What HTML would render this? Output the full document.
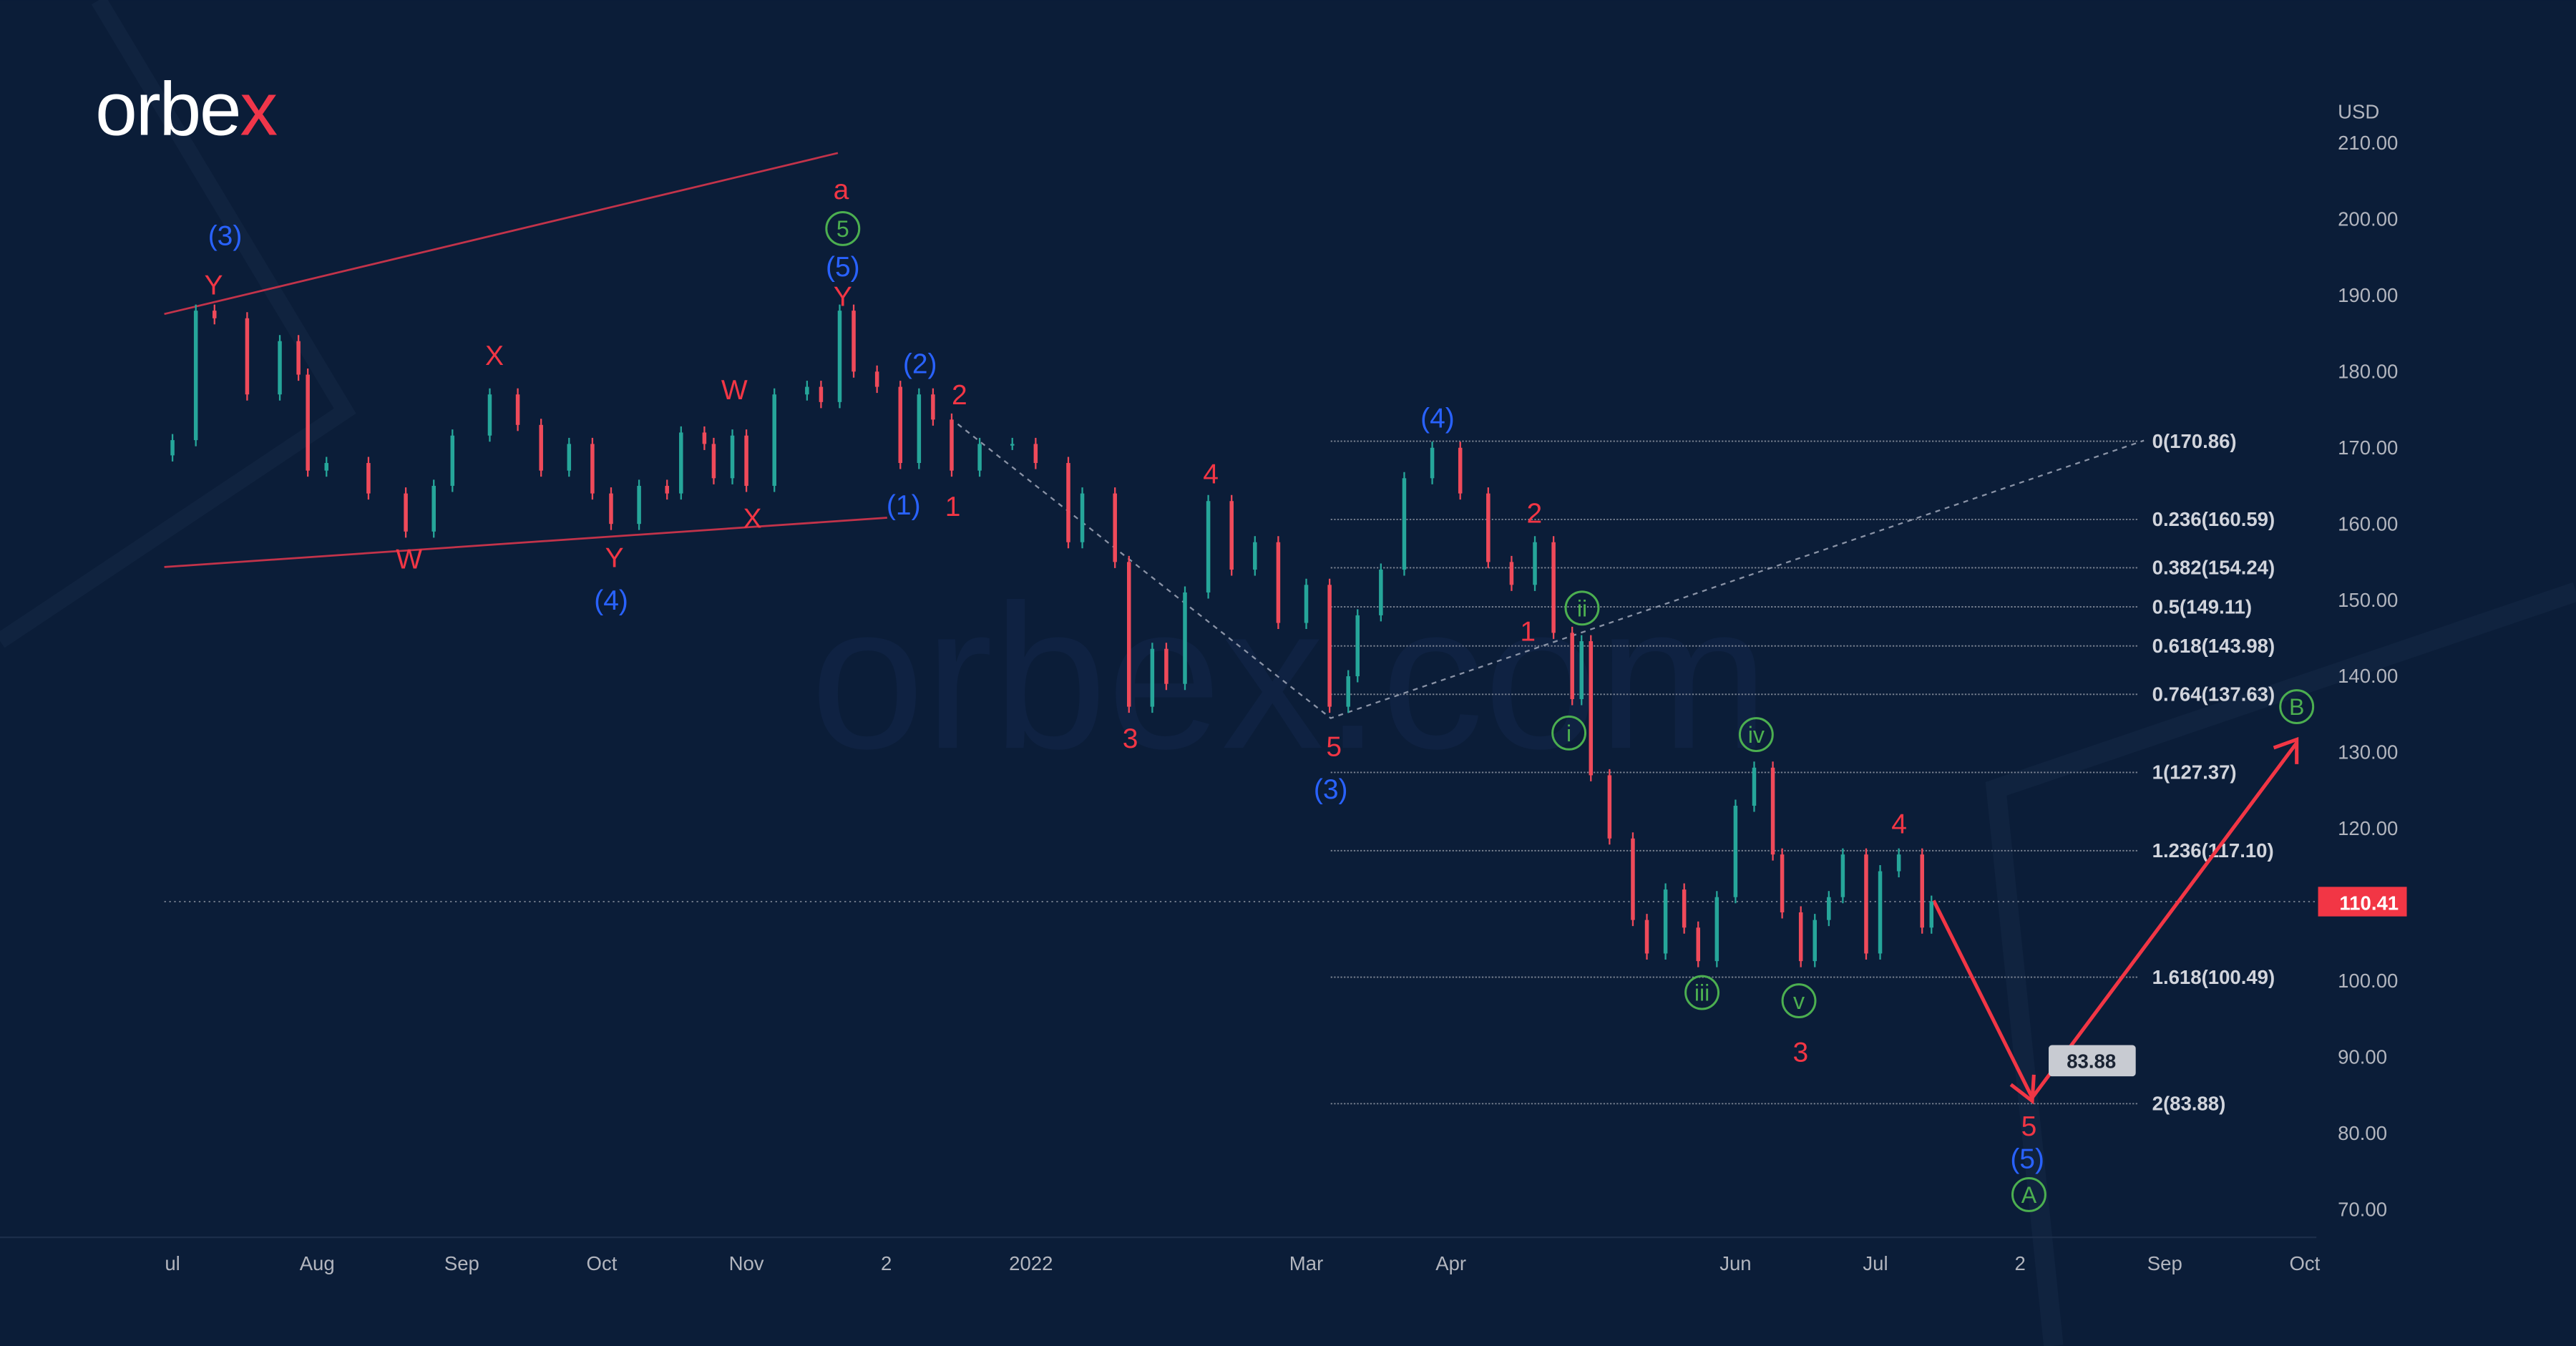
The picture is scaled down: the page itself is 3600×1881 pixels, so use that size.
<!DOCTYPE html>
<html><head><meta charset="utf-8"><style>
html,body{margin:0;padding:0;background:#0b1d38;}
svg{display:block;font-family:"Liberation Sans",sans-serif;}
</style></head><body>
<svg id="chart" width="3600" height="1881" viewBox="0 0 1568 819" xmlns="http://www.w3.org/2000/svg">
<rect x="0" y="0" width="1568" height="819" fill="#0b1d38"/>
<polyline points="60,0 210,250 0,390" fill="none" stroke="#10233f" stroke-width="10"/>
<polyline points="1568,360 1215,480 1250,819" fill="none" stroke="#10233f" stroke-width="12"/>
<text x="785" y="455" font-size="125" fill="#0f2242" text-anchor="middle">orbex.com</text>
<g><text x="58" y="82" font-size="46" fill="#ffffff" font-weight="300" letter-spacing="-1">orbe<tspan fill="#f0364a">x</tspan></text></g>
<g id="grid"></g><g id="lines"></g><g id="candles"></g><g id="labels"></g><g id="axes"></g>
</svg>
<script>
const days=[0,5,9,16,23,27,29,33,42,50,56,60,68,74,79,85,90,94,100,106,109,114,116,120,123,129,136,139,143,146,151,156,160,163,167,173,180,185,192,195,202,205,210,213,217,222,227,232,237,243,248,252,254,259,264,270,276,282,287,292,296,300,302,304,308,313,316,320,324,327,331,335,339,343,345,349,352,355,358,363,366,370,375,377];
const closes=[171,188,187,177,184,179.6,167,168,164,159,165,171.6,177,173,167,170.5,164,160,165,164,172,170.5,166,171.6,165,177,178,176,188,180,178,168,177,173.7,167,170.5,170.5,168,157.6,164,155,136,143.6,139,151,163,154,157.6,147,152,136,140,148,154,166,170,164,155,152,157.6,145.7,137,144.6,127,118.7,108,103.6,112,107,102.6,111,123,128,116.6,109,102.6,108,111,116.6,103.6,114.4,116.6,107,110.4];
const priceTicks=[210,200,190,180,170,160,150,140,130,120,100,90,80,70];
const monthLabels=["ul","Aug","Sep","Oct","Nov","2","2022","Mar","Apr","Jun","Jul","2","Sep","Oct"];
const monthDays=[0,31,62,92,123,153,184,243,274,335,365,396,427,457];
const fibLevels=[170.86,160.59,154.24,149.11,143.98,137.63,127.37,117.10,100.49,83.88];
const fibNames=["0","0.236","0.382","0.5","0.618","0.764","1","1.236","1.618","2"];
const lastPrice=110.41;
const NS="http://www.w3.org/2000/svg";
const y=v=>736-(v-70)*4.636;
const x=d=>105+d*2.84;
function mk(tag,attrs,parent,txt){const e=document.createElementNS(NS,tag);for(const k in attrs)e.setAttribute(k,attrs[k]);if(txt!==undefined)e.textContent=txt;document.getElementById(parent).appendChild(e);return e;}
priceTicks.forEach(p=>{const t=mk('text',{x:1423,y:y(p)+4,'font-size':12,fill:'#b2b5be'},'axes',p.toFixed(2));

});
const usd=mk('text',{x:1423,y:72,'font-size':12,fill:'#b2b5be'},'axes','USD');


monthLabels.forEach((m,i)=>{const t=mk('text',{x:x(monthDays[i]),y:773,'font-size':12,fill:'#b2b5be','text-anchor':'middle'},'axes',m);

});
const ax=mk('line',{x1:0,y1:753,x2:1410,y2:753,stroke:'#1c2e4a','stroke-width':1},'axes');


fibLevels.forEach((f,i)=>{const l=mk('line',{x1:810,y1:y(f),x2:1302,y2:y(f),stroke:'#7b8392','stroke-width':0.8,'stroke-dasharray':'1 1'},'grid');


const t=mk('text',{x:1310,y:y(f)+4,'font-size':12,'font-weight':'bold',fill:'#d1d4dc'},'grid',fibNames[i]+'('+f.toFixed(2)+')');

});
const lp=mk('line',{x1:100,y1:y(lastPrice),x2:1410,y2:y(lastPrice),stroke:'#7b8392','stroke-width':0.8,'stroke-dasharray':'1 2'},'grid');


const lr=mk('rect',{x:1411,y:y(lastPrice)-9,width:54,height:18,fill:'#f23645'},'grid');


const lt=mk('text',{x:1424,y:y(lastPrice)+5,'font-size':12,fill:'#fff','font-weight':'bold'},'grid',lastPrice.toFixed(2));


[[100,191,510,93,'upper-trendline'],[100,345,540,315,'lower-trendline']].forEach(a=>{const l=mk('line',{x1:a[0],y1:a[1],x2:a[2],y2:a[3],stroke:'#c2334a','stroke-width':1.2},'lines');

});
const dl=mk('polyline',{points:'583,258 810,437 1305,268',fill:'none',stroke:'#8a93a6','stroke-width':1,'stroke-dasharray':'3 3'},'lines');


for(let i=0;i<closes.length;i++){const o=i?closes[i-1]:closes[0]-2;const c=closes[i];const up=c>=o;const col=up?'#26a69a':'#ef4a5a';
const hi=Math.max(o,c)+0.8,lo=Math.min(o,c)-0.8;const cx=x(days[i]);
const w=mk('line',{x1:cx,y1:y(hi),x2:cx,y2:y(lo),stroke:col,'stroke-width':1},'candles');


const b=mk('rect',{x:cx-1.2,y:y(Math.max(o,c)),width:2.4,height:Math.max(1,Math.abs(y(o)-y(c))),fill:col},'candles');

}
const ar=mk('polyline',{points:'1177,548 1237,668 1398,452',fill:'none',stroke:'#f23645','stroke-width':2.2},'lines');


const h1=mk('polyline',{points:'1224,660 1237,670 1238,654',fill:'none',stroke:'#f23645','stroke-width':2.2},'lines');


const h2=mk('polyline',{points:'1384,455 1398,450 1398,465',fill:'none',stroke:'#f23645','stroke-width':2.2},'lines');


const tb=mk('rect',{x:1247,y:636,width:53,height:19,rx:2,fill:'#c8cbd2'},'lines');


const tt=mk('text',{x:1273,y:650,'font-size':12,'font-weight':'bold',fill:'#1a2333','text-anchor':'middle'},'lines','83.88');


const waves=[["(3)",137,143,'#2962ff'],["(5)",513,162,'#2962ff'],["(2)",560,221,'#2962ff'],["(1)",550,307,'#2962ff'],["(4)",372,365,'#2962ff'],["(4)",875,254,'#2962ff'],["(3)",810,480,'#2962ff'],["(5)",1234,705,'#2962ff'],
["Y",130,173,'#f23645'],["a",512,115,'#f23645'],["Y",513,180,'#f23645'],["X",301,216,'#f23645'],["W",447,237,'#f23645'],["W",249,340,'#f23645'],["Y",374,339,'#f23645'],["X",458,315,'#f23645'],["2",584,240,'#f23645'],["1",580,308,'#f23645'],["4",737,288,'#f23645'],["3",688,449,'#f23645'],["5",812,454,'#f23645'],["2",934,312,'#f23645'],["1",930,384,'#f23645'],["4",1156,501,'#f23645'],["3",1096,640,'#f23645'],["5",1235,685,'#f23645']];
waves.forEach(w=>{const t=mk('text',{x:w[1],y:w[2]+6,'font-size':17,fill:w[3],'text-anchor':'middle'},'labels',w[0]);

});
const circ=[["5",513,139],["ii",963,370],["i",955,446],["iv",1069,447],["iii",1036,604],["v",1095,609],["A",1235,727],["B",1398,430]];
circ.forEach(c=>{const cc=mk('circle',{cx:c[1],cy:c[2],r:10,fill:'none',stroke:'#4caf50','stroke-width':1.3},'labels');


const t=mk('text',{x:c[1],y:c[2]+5,'font-size':14,fill:'#4caf50','text-anchor':'middle'},'labels',c[0]);

});
</script>
</body></html>
